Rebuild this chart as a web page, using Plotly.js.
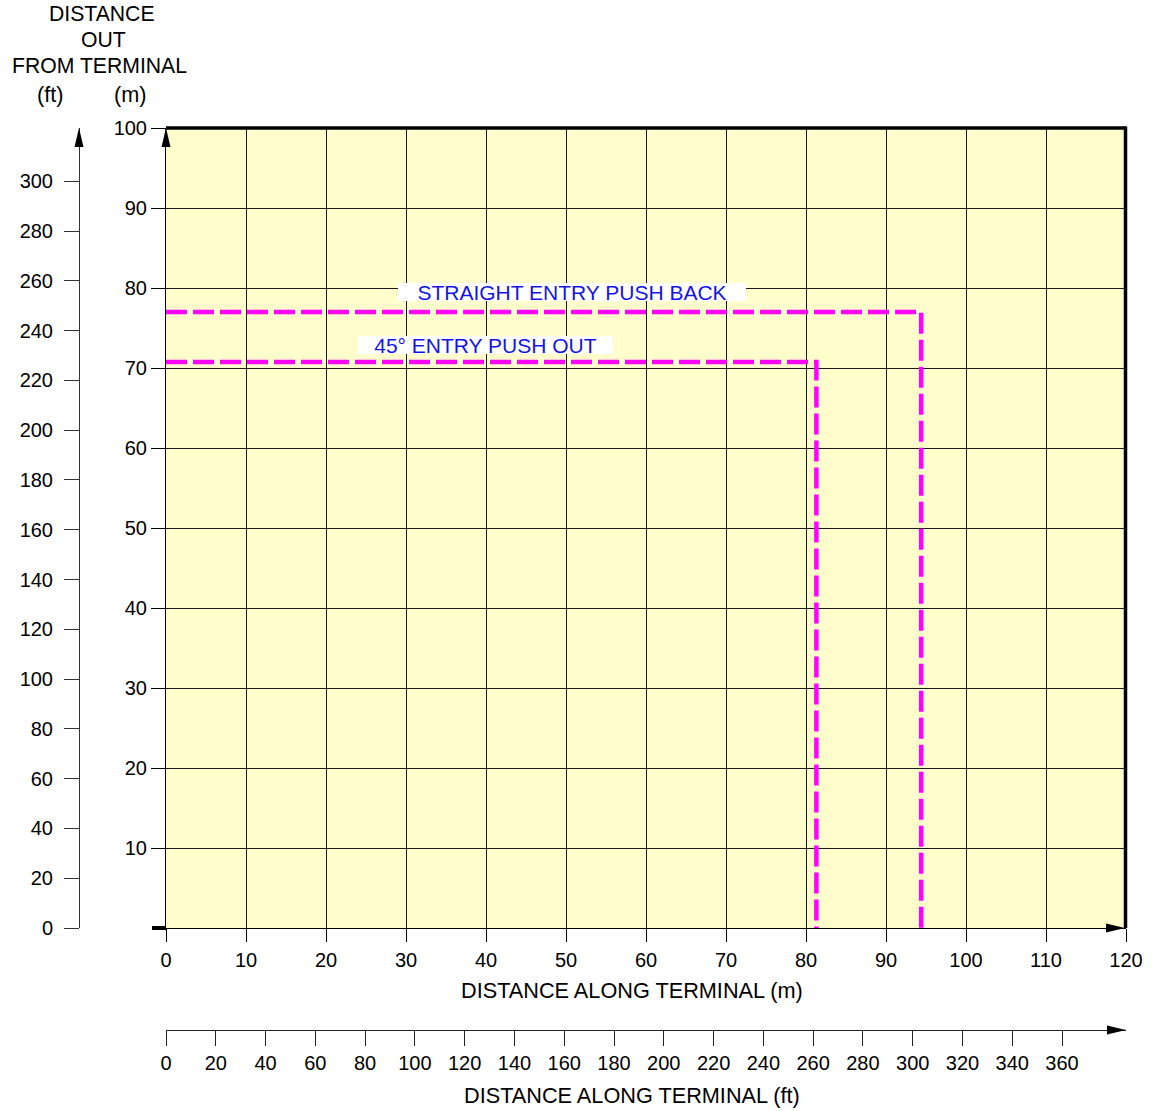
<!DOCTYPE html>
<html><head><meta charset="utf-8">
<script src="https://cdn.plot.ly/plotly-3.0.1.min.js"></script>
<style>html,body{margin:0;padding:0;background:#fff}</style>
</head><body><div id="chart" style="width:1158px;height:1111px"></div>
<script>
const W = 1158, H = 1111;

// ---- data ----
const xTicksM = [0, 10, 20, 30, 40, 50, 60, 70, 80, 90, 100, 110, 120];
const yTicksM = [10, 20, 30, 40, 50, 60, 70, 80, 90, 100];
const xTicksFt = [0, 20, 40, 60, 80, 100, 120, 140, 160, 180, 200, 220, 240, 260, 280, 300, 320, 340, 360];
const yTicksFt = [0, 20, 40, 60, 80, 100, 120, 140, 160, 180, 200, 220, 240, 260, 280, 300];
const xRangeM = [0, 120];
const yRangeM = [0, 100];
const xRangeFt = [0, 385.7];
const yRangeFt = [0, 321.4];

const straightX = [0, 94.4, 94.4];
const straightY = [77, 77, 0];
const entry45X = [0, 81.3, 81.3];
const entry45Y = [70.75, 70.75, 0];

const labelTexts = ["STRAIGHT ENTRY PUSH BACK", "45\u00B0 ENTRY PUSH OUT"];
const labelX = [50.75, 39.94];
const labelY = [79.5, 72.875];

const yTitleLines = ["DISTANCE", "OUT", "FROM TERMINAL"];

// ---- layout helpers ----
const L = 166, R = 1126, T = 128, B = 928;
const FT_Y_AXIS_X = 79, FT_X_AXIS_Y = 1030;
const px = x => x / W;
const py = y => 1 - y / H;
const FONT = 'Liberation Sans, Arial, Helvetica, sans-serif';
const MAG = '#FF00FF';
const TICK_SIZE = 20, TITLE_SIZE = 21.7, LABEL_SIZE = 21, LEFT_TITLE_SIZE = 21.2;

const dashLine = {color: MAG, width: 4.5, dash: '21px,6px'};

const traces = [
  {x: straightX, y: straightY, mode: 'lines', line: dashLine, hoverinfo: 'skip', name: labelTexts[0]},
  {x: entry45X, y: entry45Y, mode: 'lines', line: dashLine, hoverinfo: 'skip', name: labelTexts[1]},
  {x: [], y: [], xaxis: 'x2', yaxis: 'y2', mode: 'lines', hoverinfo: 'skip', showlegend: false}
];

const axisCommon = {
  ticks: 'outside', tickcolor: '#000', tickwidth: 1,
  showline: true, linecolor: '#000', linewidth: 1,
  zeroline: false, fixedrange: true,
  tickfont: {family: FONT, size: TICK_SIZE, color: '#000'}
};

const upArrow = 'M0,0L-4.5,-19L4.5,-19Z';
const rightArrow = 'M0,0L-19,4.5L-19,-4.5Z';
function arrowShape(xpx, ypx, path) {
  return {type: 'path', xref: 'paper', yref: 'paper', xsizemode: 'pixel', ysizemode: 'pixel',
          xanchor: px(xpx), yanchor: py(ypx), path: path, fillcolor: '#000', line: {width: 0}};
}

const titleAnn = (x, y, text, size) => ({xref: 'paper', yref: 'paper', x: px(x), y: py(y), text: text,
  showarrow: false, xanchor: 'center', yanchor: 'middle', font: {size: size || TITLE_SIZE, color: '#000'}});

const layout = {
  width: W, height: H,
  margin: {l: 0, r: 0, t: 0, b: 0},
  paper_bgcolor: '#ffffff',
  plot_bgcolor: '#FFFDCC',
  font: {family: FONT, size: TITLE_SIZE, color: '#000'},
  showlegend: false,
  xaxis: Object.assign({}, axisCommon, {
    domain: [px(L), px(R)], range: xRangeM, tickvals: xTicksM, ticklen: 13, ticklabelstandoff: 1,
    showgrid: true, gridcolor: '#1a1a1a', gridwidth: 1, anchor: 'y'
  }),
  yaxis: Object.assign({}, axisCommon, {
    domain: [py(B), py(T)], range: yRangeM, tickvals: yTicksM, ticklen: 14,
    showgrid: true, gridcolor: '#1a1a1a', gridwidth: 1, anchor: 'x'
  }),
  xaxis2: Object.assign({}, axisCommon, {
    overlaying: 'x', anchor: 'free', position: py(FT_X_AXIS_Y), side: 'bottom', ticklabelstandoff: 0,
    range: xRangeFt, tickvals: xTicksFt, ticklen: 15, showgrid: false, linecolor: '#222', tickcolor: '#222'
  }),
  yaxis2: Object.assign({}, axisCommon, {
    overlaying: 'y', anchor: 'free', position: px(FT_Y_AXIS_X), side: 'left', ticklabelstandoff: 7,
    range: yRangeFt, tickvals: yTicksFt, ticklen: 15, showgrid: false, linecolor: '#333', tickcolor: '#333'
  }),
  shapes: [
    // thick top border
    {type: 'line', xref: 'paper', yref: 'paper', x0: px(L), x1: px(R), y0: py(T), y1: py(T), line: {color: '#000', width: 3.5}},
    // thick right border
    {type: 'line', xref: 'paper', yref: 'paper', x0: px(R - 0.5), x1: px(R - 0.5), y0: py(B), y1: py(T - 1.5), line: {color: '#000', width: 3.5}},
    // thick zero tick on m y-axis
    {type: 'line', xref: 'paper', yref: 'paper', x0: px(L - 14), x1: px(L), y0: py(B), y1: py(B), line: {color: '#000', width: 4}},
    arrowShape(L, T, upArrow),
    arrowShape(R - 1, B, rightArrow),
    arrowShape(FT_Y_AXIS_X, T, upArrow),
    arrowShape(R, FT_X_AXIS_Y, rightArrow)
  ],
  annotations: [
    titleAnn(632, 990, 'DISTANCE ALONG TERMINAL (m)'),
    titleAnn(632, 1095, 'DISTANCE ALONG TERMINAL (ft)'),
    titleAnn(102, 14, yTitleLines[0], LEFT_TITLE_SIZE),
    titleAnn(103, 39.5, yTitleLines[1], LEFT_TITLE_SIZE),
    titleAnn(99, 65, yTitleLines[2], LEFT_TITLE_SIZE),
    titleAnn(50, 95, '(ft)'),
    titleAnn(130, 95, '(m)'),
    {xref: 'x', yref: 'y', x: labelX[0], y: labelY[0], text: labelTexts[0], showarrow: false, bgcolor: '#ffffff',
     width: 348, height: 18, borderpad: 0, borderwidth: 0, font: {size: LABEL_SIZE, color: '#1414E6'}},
    {xref: 'x', yref: 'y', x: labelX[1], y: labelY[1], text: labelTexts[1], showarrow: false, bgcolor: '#ffffff',
     width: 255, height: 18, borderpad: 0, borderwidth: 0, font: {size: LABEL_SIZE, color: '#1414E6'}}
  ]
};

Plotly.newPlot('chart', traces, layout, {displayModeBar: false, staticPlot: true});
</script>
</body></html>
